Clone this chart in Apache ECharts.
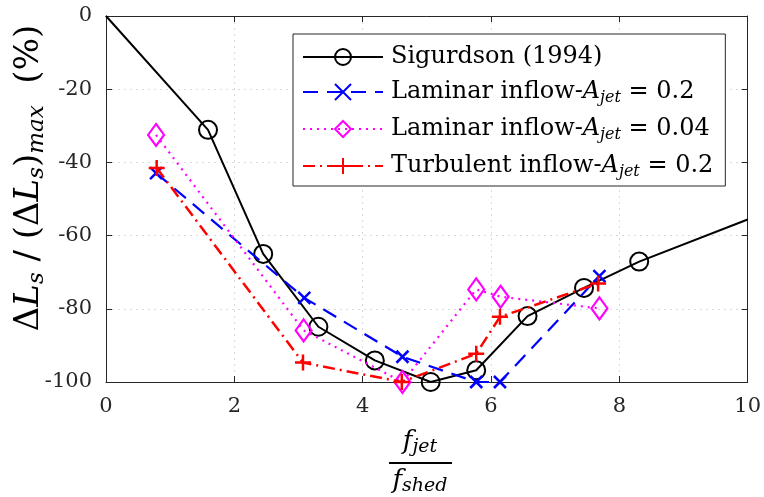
<!DOCTYPE html>
<html><head><meta charset="utf-8">
<script src="https://cdn.jsdelivr.net/npm/echarts@6/dist/echarts.min.js"></script>
<style>html,body{margin:0;padding:0;background:#fff}#c{width:764px;height:497px}</style>
</head><body><div id="c"></div>
<script>
const xTicks = [0, 2, 4, 6, 8, 10];
const yTicks = [0, -20, -40, -60, -80, -100];
const sigX = [0, 1.59, 2.45, 3.31, 4.19, 5.06, 5.77, 6.57, 7.45, 8.31, 10];
const sigY = [0, -31.1, -65.0, -84.9, -94.1, -100, -96.8, -82.0, -74.3, -67.1, -55.6];
const lam02X = [0.78, 3.09, 4.62, 5.77, 6.14, 7.69];
const lam02Y = [-42.9, -77.0, -93.1, -100, -100, -71.1];
const lam004X = [0.78, 3.08, 4.62, 5.77, 6.15, 7.69];
const lam004Y = [-32.5, -85.9, -100, -74.7, -76.7, -79.9];
const turbX = [0.79, 3.07, 4.61, 5.77, 6.14, 7.67];
const turbY = [-41.5, -94.7, -100, -92.3, -82.2, -73.1];
const names = ['Sigurdson (1994)', 'Laminar inflow-A_jet = 0.2', 'Laminar inflow-A_jet = 0.04', 'Turbulent inflow-A_jet = 0.2'];

const FF = 'DejaVu Serif';
const AX = '#262626';
function pairs(xs, ys) { return xs.map((x, i) => [x, ys[i]]); }
const sigData = pairs(sigX, sigY).map((p, i) => (i === 0 || i === sigX.length - 1) ? { value: p, symbol: 'none' } : p);

const chart = echarts.init(document.getElementById('c'), null, { renderer: 'canvas' });
const axCommon = {
  type: 'value', axisLine: { show: true, onZero: false, lineStyle: { color: AX, width: 1 } },
  axisTick: { show: true, inside: true, length: 6, lineStyle: { color: AX } }
};
const option = {
  animation: false,
  backgroundColor: '#fff',
  grid: { left: 106, right: 14, top: 16, bottom: 115, containLabel: false },
  xAxis: [
    Object.assign({}, axCommon, { min: 0, max: 10, interval: 2, position: 'bottom',
      axisLabel: { fontFamily: FF, fontSize: 21, color: AX, margin: 14, showMinLabel: true, showMaxLabel: true },
      splitLine: { show: true, lineStyle: { color: '#d9d9d9', type: [2, 4], width: 1 } } }),
    Object.assign({}, axCommon, { min: 0, max: 10, interval: 2, position: 'top',
      axisLabel: { show: false }, splitLine: { show: false } })
  ],
  yAxis: [
    Object.assign({}, axCommon, { min: -100, max: 0, interval: 20, position: 'left',
      axisLabel: { fontFamily: FF, fontSize: 21, color: AX, margin: 14 },
      splitLine: { show: true, lineStyle: { color: '#d9d9d9', type: [2, 4], width: 1 } } }),
    Object.assign({}, axCommon, { min: -100, max: 0, interval: 20, position: 'right',
      axisLabel: { show: false }, splitLine: { show: false } })
  ],
  legend: {
    orient: 'vertical', left: 293, top: 34,
    padding: [11, 12, 6, 9], itemGap: 11, itemWidth: 80, itemHeight: 20,
    borderColor: AX, borderWidth: 1, backgroundColor: '#fff',
    data: names,
    formatter: function (n) {
      if (n.indexOf('A_jet') < 0) return '{r|' + n + '}';
      const parts = n.split('A_jet');
      return '{r|' + parts[0] + '}{i|A}{s|jet}{r|' + parts[1] + '}';
    },
    textStyle: {
      fontFamily: FF, fontSize: 24, color: '#000', padding: [0, 0, 0, 3],
      rich: {
        r: { fontFamily: FF, fontSize: 24, lineHeight: 28, color: '#000' },
        i: { fontFamily: FF, fontSize: 24, lineHeight: 28, fontStyle: 'italic', color: '#000' },
        s: { fontFamily: FF, fontSize: 16, lineHeight: 16, fontStyle: 'italic', verticalAlign: 'bottom', color: '#000' }
      }
    }
  },
  graphic: [
    { type: 'text', x: 29, y: 178, rotation: Math.PI / 2,
      style: { text: '{r|Δ}{i|L}{s|s}{r| / (Δ}{i|L}{s|s}{r|)}{s|max}{r|  (%)}',
        align: 'center', verticalAlign: 'middle', fill: '#000',
        rich: {
          r: { fontFamily: FF, fontSize: 34, lineHeight: 40, fill: '#000' },
          i: { fontFamily: FF, fontSize: 34, lineHeight: 40, fontStyle: 'italic', fill: '#000' },
          s: { fontFamily: FF, fontSize: 23, lineHeight: 25, fontStyle: 'italic', verticalAlign: 'bottom', fill: '#000' }
        } } },
    { type: 'text', x: 420, y: 442,
      style: { text: '{i|f}{s|jet}', align: 'center', verticalAlign: 'middle', fill: '#000',
        rich: {
          i: { fontFamily: FF, fontSize: 26, lineHeight: 30, fontStyle: 'italic', fill: '#000' },
          s: { fontFamily: FF, fontSize: 19, lineHeight: 18, fontStyle: 'italic', verticalAlign: 'bottom', fill: '#000' }
        } } },
    { type: 'line', shape: { x1: 389, y1: 463, x2: 452, y2: 463 }, style: { stroke: '#000', lineWidth: 2 } },
    { type: 'text', x: 420, y: 481,
      style: { text: '{i|f}{s|shed}', align: 'center', verticalAlign: 'middle', fill: '#000',
        rich: {
          i: { fontFamily: FF, fontSize: 26, lineHeight: 30, fontStyle: 'italic', fill: '#000' },
          s: { fontFamily: FF, fontSize: 19, lineHeight: 18, fontStyle: 'italic', verticalAlign: 'bottom', fill: '#000' }
        } } }
  ],
  series: [
    { name: names[0], type: 'line', data: sigData, z: 3,
      symbol: 'circle', symbolSize: 18,
      lineStyle: { color: '#000', width: 2, type: 'solid' },
      itemStyle: { color: 'rgba(0,0,0,0)', borderColor: '#000', borderWidth: 2 } },
    { name: names[1], type: 'line', data: pairs(lam02X, lam02Y), z: 4,
      symbol: 'path://M0,0L10,10M10,0L0,10', symbolSize: 12,
      lineStyle: { color: '#0000ff', width: 2.2, type: [15, 9] },
      itemStyle: { color: 'rgba(0,0,0,0)', borderColor: '#0000ff', borderWidth: 2.5 } },
    { name: names[2], type: 'line', data: pairs(lam004X, lam004Y), z: 5,
      symbol: 'diamond', symbolSize: [16, 22],
      lineStyle: { color: '#ff00ff', width: 2.2, type: [2, 5] },
      itemStyle: { color: 'rgba(0,0,0,0)', borderColor: '#ff00ff', borderWidth: 2.2 } },
    { name: names[3], type: 'line', data: pairs(turbX, turbY), z: 6,
      symbol: 'path://M5,0L5,10M0,5L10,5', symbolSize: 16,
      lineStyle: { color: '#ff0000', width: 2.5, type: [12, 5, 2, 5] },
      itemStyle: { color: 'rgba(0,0,0,0)', borderColor: '#ff0000', borderWidth: 2.5 } }
  ]
};
chart.setOption(option);
</script></body></html>
